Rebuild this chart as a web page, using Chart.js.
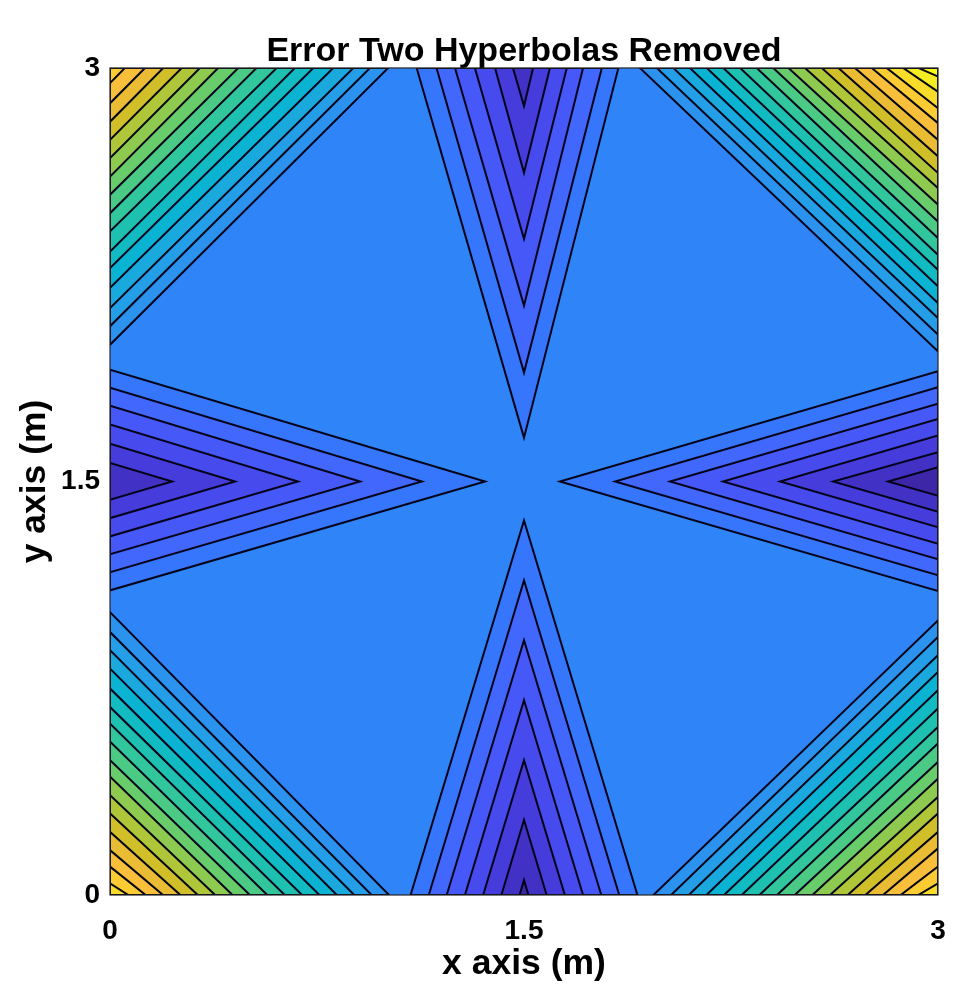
<!DOCTYPE html>
<html>
<head>
<meta charset="utf-8">
<script src="https://cdn.jsdelivr.net/npm/chart.js@4.4.1/dist/chart.umd.min.js"></script>
<style>html,body{margin:0;padding:0;background:#fff;overflow:hidden}</style>
</head>
<body>
<canvas id="c" width="960" height="988"></canvas>
<script>
// ---------- text ----------
const titleText = 'Error Two Hyperbolas Removed';
const xLabel = 'x axis (m)';
const yLabel = 'y axis (m)';
const axisTicks = [0, 1.5, 3];
const axisMin = 0, axisMax = 3;

// ---------- contour levels (band index; base = flat centre region) ----------
const levelBase = 7;
const levelMax = 25;
const crossCentre = 1.5;

// triangles pointing to the centre (lines listed outermost -> innermost)
const topTipY    = [1.659, 1.895, 2.138, 2.380, 2.620, 2.862];
const topLeftX   = [1.111, 1.183, 1.250, 1.322, 1.395, 1.460];
const topRightX  = [1.842, 1.782, 1.714, 1.655, 1.594, 1.533];

const botTipY    = [1.359, 1.141, 0.924, 0.707, 0.489, 0.272, 0.054];
const botLeftX   = [1.089, 1.155, 1.220, 1.286, 1.352, 1.418, 1.484];
const botRightX  = [1.911, 1.845, 1.780, 1.714, 1.648, 1.582, 1.516];

const leftTipX   = [1.359, 1.130, 0.906, 0.681, 0.453, 0.225];
const leftUpperY = [1.905, 1.840, 1.775, 1.707, 1.637, 1.567];
const leftLowerY = [1.105, 1.171, 1.236, 1.301, 1.367, 1.434];

const rightTipX   = [1.630, 1.830, 2.029, 2.221, 2.428, 2.620, 2.819];
const rightUpperY = [1.900, 1.842, 1.782, 1.727, 1.667, 1.606, 1.552];
const rightLowerY = [1.103, 1.160, 1.218, 1.274, 1.334, 1.390, 1.448];

// corner stripes: distance of each contour line from the corner along the
// horizontal edge (H) and the vertical edge (V), outermost -> innermost
const tlH = [1.008, 0.942, 0.882, 0.809, 0.737, 0.670, 0.604, 0.531, 0.465, 0.392, 0.326, 0.260, 0.193, 0.127, 0.054];
const tlV = [1.004, 0.937, 0.871, 0.798, 0.726, 0.666, 0.593, 0.527, 0.460, 0.394, 0.327, 0.261, 0.195, 0.128, 0.055];

const trH = [1.080, 1.019, 0.959, 0.899, 0.838, 0.778, 0.717, 0.657, 0.597, 0.542, 0.482, 0.421, 0.361, 0.301, 0.240, 0.186, 0.126, 0.071];
const trV = [1.028, 0.967, 0.907, 0.853, 0.792, 0.732, 0.678, 0.617, 0.557, 0.496, 0.436, 0.381, 0.321, 0.261, 0.200, 0.146, 0.086, 0.031];

const blH = [1.011, 0.948, 0.885, 0.822, 0.759, 0.696, 0.633, 0.570, 0.507, 0.444, 0.381, 0.318, 0.255, 0.192, 0.129, 0.066];
const blV = [1.026, 0.954, 0.888, 0.821, 0.749, 0.682, 0.622, 0.556, 0.489, 0.429, 0.362, 0.296, 0.229, 0.163, 0.103, 0.042];

const brH = [1.031, 0.967, 0.903, 0.839, 0.775, 0.711, 0.647, 0.583, 0.519, 0.455, 0.391, 0.327, 0.263, 0.199, 0.135, 0.071];
const brV = [0.996, 0.936, 0.870, 0.809, 0.743, 0.677, 0.610, 0.550, 0.483, 0.422, 0.356, 0.296, 0.229, 0.169, 0.103, 0.042];

// ---------- colour map (MATLAB parula) ----------
const PARULA = [
  [0/63,[0.2422,0.1504,0.6603]],[4/63,[0.2706,0.2147,0.8364]],[8/63,[0.2813,0.3006,0.9414]],
  [12/63,[0.2699,0.3892,0.9906]],[16/63,[0.1963,0.4847,0.9892]],[20/63,[0.1687,0.5703,0.9359]],
  [24/63,[0.1248,0.6459,0.8883]],[28/63,[0.0297,0.7082,0.8163]],[32/63,[0.0964,0.7500,0.7120]],
  [36/63,[0.2161,0.7843,0.5923]],[40/63,[0.3909,0.8029,0.4354]],[44/63,[0.6174,0.7876,0.2612]],
  [48/63,[0.8203,0.7498,0.1535]],[52/63,[0.9728,0.7298,0.2394]],[56/63,[0.9892,0.8136,0.1885]],
  [60/63,[0.9597,0.9135,0.1423]],[63/63,[0.9769,0.9839,0.0805]]
];
function parula(t){
  t = Math.max(0, Math.min(1, t));
  let i = 0;
  while (i < PARULA.length - 2 && t > PARULA[i+1][0]) i++;
  const [p0,c0] = PARULA[i], [p1,c1] = PARULA[i+1];
  const f = (t - p0) / (p1 - p0);
  const c = c0.map((v,k)=>Math.round(255*(v + (c1[k]-v)*f)));
  return `rgb(${c[0]},${c[1]},${c[2]})`;
}
function levelColor(level){ return parula(level / levelMax); }

// ---------- build datasets ----------
const LINE_COLOR = '#04041a';
const datasets = [];
function addPolygon(points, level, stroke){
  const pts = points.concat([points[0]]).map(([x,y])=>({x,y}));
  datasets.push({
    data: pts,
    showLine: true,
    fill: 'shape',
    backgroundColor: levelColor(level),
    borderColor: stroke ? LINE_COLOR : 'rgba(0,0,0,0)',
    borderWidth: stroke ? 2 : 0,
    pointRadius: 0,
    tension: 0,
    clip: 0
  });
}

// flat background level
addPolygon([[axisMin,axisMin],[axisMax,axisMin],[axisMax,axisMax],[axisMin,axisMax]], levelBase, false);

// triangles (lower levels)
topTipY.forEach((ty,k)=>addPolygon([[topLeftX[k],axisMax],[crossCentre,ty],[topRightX[k],axisMax]], levelBase-1-k, true));
botTipY.forEach((ty,k)=>addPolygon([[botLeftX[k],axisMin],[crossCentre,ty],[botRightX[k],axisMin]], levelBase-1-k, true));
leftTipX.forEach((tx,k)=>addPolygon([[axisMin,leftUpperY[k]],[tx,crossCentre],[axisMin,leftLowerY[k]]], levelBase-1-k, true));
rightTipX.forEach((tx,k)=>addPolygon([[axisMax,rightUpperY[k]],[tx,crossCentre],[axisMax,rightLowerY[k]]], levelBase-1-k, true));

// corners (higher levels)
tlH.forEach((h,k)=>addPolygon([[axisMin,axisMax],[axisMin+h,axisMax],[axisMin,axisMax-tlV[k]]], levelBase+1+k, true));
trH.forEach((h,k)=>addPolygon([[axisMax,axisMax],[axisMax-h,axisMax],[axisMax,axisMax-trV[k]]], levelBase+1+k, true));
blH.forEach((h,k)=>addPolygon([[axisMin,axisMin],[axisMin+h,axisMin],[axisMin,axisMin+blV[k]]], levelBase+1+k, true));
brH.forEach((h,k)=>addPolygon([[axisMax,axisMin],[axisMax-h,axisMin],[axisMax,axisMin+brV[k]]], levelBase+1+k, true));

// later polygons must be painted on top
datasets.forEach((d,i)=>{ d.order = datasets.length - i; });

// ---------- chart ----------
const FONT = "'Liberation Sans', Arial, Helvetica, sans-serif";
const framePlugin = {
  id: 'frame',
  afterDatasetsDraw(chart){
    const {ctx, chartArea:a} = chart;
    ctx.save();
    ctx.strokeStyle = '#262626';
    ctx.lineWidth = 1.2;
    ctx.strokeRect(a.left, a.top, a.right - a.left, a.bottom - a.top);
    ctx.restore();
  }
};

new Chart(document.getElementById('c'), {
  type: 'scatter',
  data: { datasets },
  options: {
    responsive: false,
    devicePixelRatio: 1,
    animation: false,
    events: [],
    layout: { padding: { left: 0, right: 22, top: 0, bottom: 0 } },
    plugins: {
      legend: { display: false },
      tooltip: { enabled: false },
      filler: { propagate: false, drawTime: 'beforeDatasetDraw' },
      title: {
        display: true, text: titleText, fullSize: false, color: '#000',
        font: { family: FONT, size: 34, weight: 'bold', lineHeight: 0.94 },
        padding: { top: 36, bottom: 0 }
      }
    },
    scales: {
      x: {
        type: 'linear', position: 'bottom', min: axisMin, max: axisMax,
        grid: { display: false }, border: { display: false },
        ticks: { autoSkip: false, maxRotation: 0, padding: 11, color: '#000',
                 font: { family: FONT, size: 28, weight: 'bold' } },
        title: { display: true, text: xLabel, color: '#000',
                 font: { family: FONT, size: 35.5, weight: 'bold', lineHeight: 1.2 },
                 padding: { top: 0, bottom: 2 } },
        afterBuildTicks: s => { s.ticks = axisTicks.map(v => ({ value: v })); },
        afterFit: s => { s.height = 93; s.paddingLeft = 0; s.paddingRight = 0; }
      },
      y: {
        type: 'linear', position: 'left', min: axisMin, max: axisMax,
        grid: { display: false }, border: { display: false },
        ticks: { autoSkip: false, padding: 2, color: '#000',
                 font: { family: FONT, size: 28, weight: 'bold' } },
        title: { display: true, text: yLabel, color: '#000',
                 font: { family: FONT, size: 35.5, weight: 'bold', lineHeight: 1.2 },
                 padding: { top: 14, bottom: 14 } },
        afterBuildTicks: s => { s.ticks = axisTicks.map(v => ({ value: v })); },
        afterFit: s => { s.width = 110; s.paddingTop = 0; s.paddingBottom = 0; }
      }
    }
  },
  plugins: [framePlugin]
});
</script>
</body>
</html>
